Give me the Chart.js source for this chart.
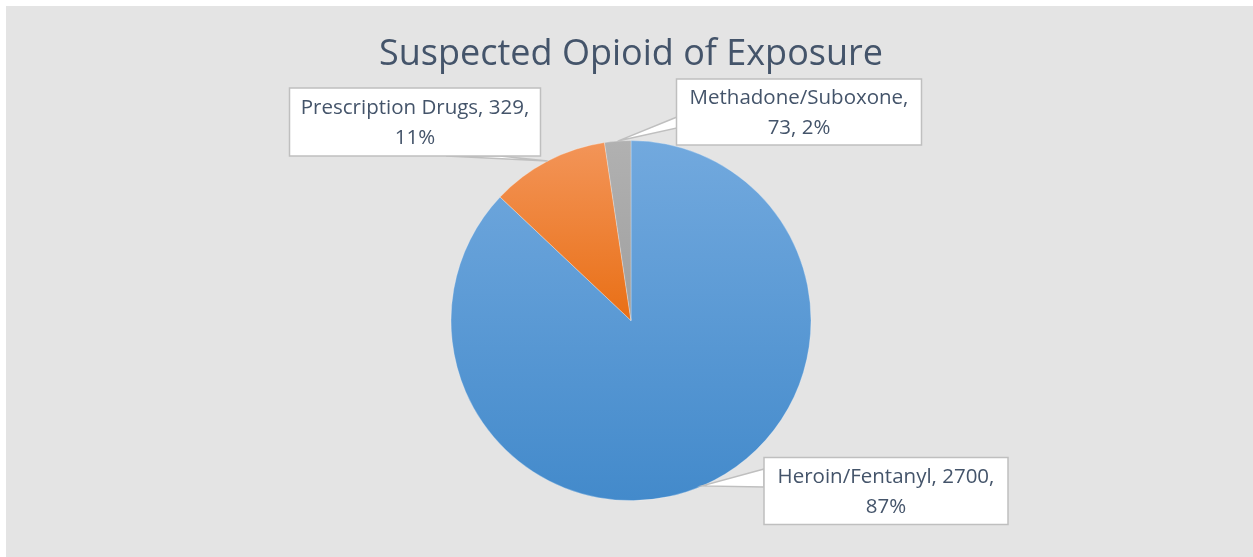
<!DOCTYPE html>
<html>
<head>
<meta charset="utf-8">
<script src="https://cdn.jsdelivr.net/npm/chart.js@4"></script>
<style>
  body { margin: 0; background: #fff; }
  #panel { position: absolute; left: 6px; top: 6px; width: 1247px; height: 551px; background: #e4e4e4; }
</style>
</head>
<body>
<div id="panel"><canvas id="opioidChart" width="1247" height="551"></canvas></div>
<script>
// Suspected opioid of exposure counts
const categories = ['Heroin/Fentanyl', 'Prescription Drugs', 'Methadone/Suboxone'];
const counts = [2700, 329, 73];
const percentLabels = ['87%', '11%', '2%'];

// top / bottom shades for each slice
const topColors = ['#72a9de', '#f39559', '#b1b1b1'];
const bottomColors = ['#438acb', '#e96f15', '#9f9f9f'];

// callout box centres and pointer bases (canvas px)
const callouts = [
  { cx: 880, cy: 485, w: 244, h: 67, base: [[758, 463], [758, 481]] },
  { cx: 409, cy: 116, w: 251, h: 68, base: [[440, 150], [494, 150]] },
  { cx: 793, cy: 106, w: 245, h: 66, base: [[671, 111], [671, 122]] }
];

function sliceGradient(context) {
  const chart = context.chart;
  const area = chart.chartArea;
  if (!area) return topColors[context.dataIndex];
  const meta = chart.getDatasetMeta(0);
  const arc = meta.data[context.dataIndex];
  const cy = (area.top + area.bottom) / 2;
  const r = arc && arc.outerRadius ? arc.outerRadius : 180;
  const bottom = context.dataIndex === 0 ? cy + r : cy;
  const g = chart.ctx.createLinearGradient(0, cy - r, 0, bottom);
  g.addColorStop(0, topColors[context.dataIndex]);
  g.addColorStop(1, bottomColors[context.dataIndex]);
  return g;
}

const calloutPlugin = {
  id: 'callouts',
  afterDatasetsDraw(chart) {
    const ctx = chart.ctx;
    const meta = chart.getDatasetMeta(0);
    meta.data.forEach((arc, i) => {
      const mid = (arc.startAngle + arc.endAngle) / 2;
      const ax = arc.x + Math.cos(mid) * arc.outerRadius;
      const ay = arc.y + Math.sin(mid) * arc.outerRadius;
      const c = callouts[i];
      const x0 = c.cx - c.w / 2, y0 = c.cy - c.h / 2;
      ctx.save();
      // pointer
      ctx.beginPath();
      ctx.moveTo(c.base[0][0], c.base[0][1]);
      ctx.lineTo(ax, ay);
      ctx.lineTo(c.base[1][0], c.base[1][1]);
      ctx.closePath();
      ctx.fillStyle = '#ffffff';
      ctx.fill();
      ctx.strokeStyle = '#bfbfbf';
      ctx.lineWidth = 1.5;
      ctx.stroke();
      // box
      ctx.fillStyle = '#ffffff';
      ctx.fillRect(x0, y0, c.w, c.h);
      ctx.strokeRect(x0, y0, c.w, c.h);
      // text
      ctx.fillStyle = '#44546a';
      ctx.font = '20.5px "Open Sans"';
      ctx.textAlign = 'center';
      ctx.textBaseline = 'middle';
      let line1, line2;
      if (i === 2) {
        line1 = categories[i] + ',';
        line2 = counts[i] + ', ' + percentLabels[i];
      } else {
        line1 = categories[i] + ', ' + counts[i] + ',';
        line2 = percentLabels[i];
      }
      ctx.fillText(line1, c.cx, c.cy - 14);
      ctx.fillText(line2, c.cx, c.cy + 16);
      ctx.restore();
    });
  }
};

new Chart(document.getElementById('opioidChart'), {
  type: 'pie',
  data: {
    labels: categories,
    datasets: [{
      data: counts,
      backgroundColor: sliceGradient,
      borderColor: 'rgba(255,255,255,0.45)',
      borderWidth: 0.6
    }]
  },
  options: {
    responsive: false,
    animation: false,
    radius: 180,
    layout: { padding: { top: 3, left: 3 } },
    plugins: {
      legend: { display: false },
      tooltip: { enabled: false },
      title: {
        display: true,
        text: 'Suspected Opioid of Exposure',
        color: '#44546a',
        font: { family: '"Open Sans"', size: 36, weight: 'normal' },
        padding: { top: 24, bottom: 8 }
      }
    }
  },
  plugins: [calloutPlugin]
});
</script>
</body>
</html>
